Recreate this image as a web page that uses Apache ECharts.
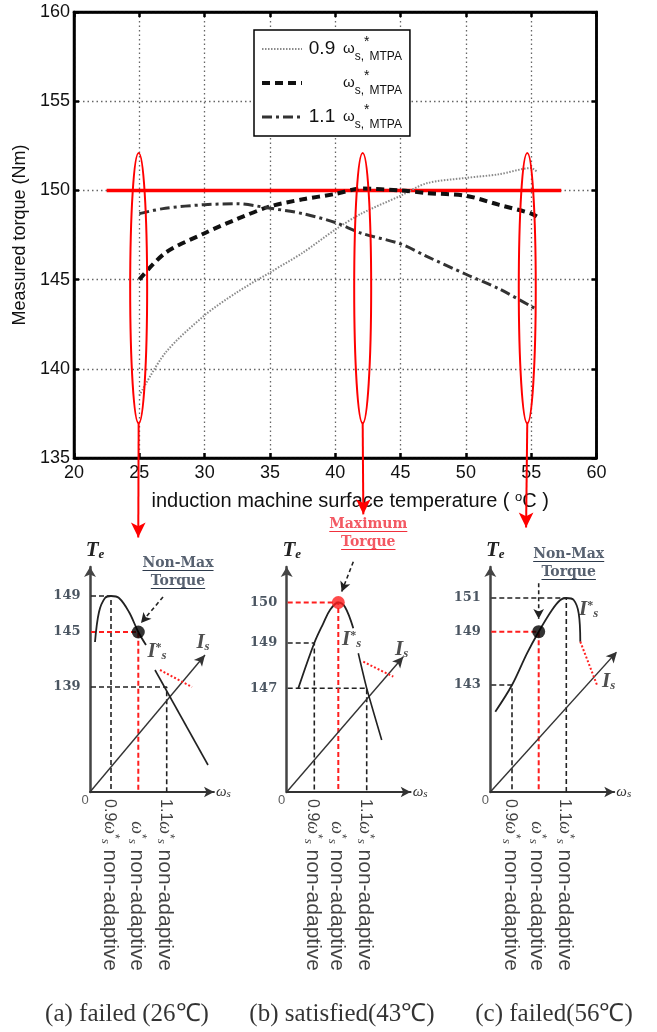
<!DOCTYPE html>
<html>
<head>
<meta charset="utf-8">
<title>Measured torque</title>
<script src="https://cdn.jsdelivr.net/npm/echarts@6/dist/echarts.min.js"></script>
<style>
html, body { margin: 0; padding: 0; background: #fff; }
#main { width: 657px; height: 1032px; }
</style>
</head>
<body>
<div id="main"></div>
<script>
var myChart = echarts.init(document.getElementById('main'));

// measured torque vs surface temperature
var temps = [25, 27, 30, 32.5, 35, 37.5, 40, 42, 45, 47, 50, 52.5, 55, 55.5];
var torque09 = [138.5, 140.9, 143.0, 144.3, 145.4, 146.5, 147.8, 148.7, 149.7, 150.4, 150.7, 150.9, 151.25, 151.0];
var torque10 = [145.0, 146.5, 147.6, 148.4, 149.1, 149.5, 149.8, 150.1, 150.0, 149.85, 149.7, 149.2, 148.7, 148.5];
var torque11 = [148.7, 149.0, 149.2, 149.25, 149.0, 148.7, 148.2, 147.6, 147.0, 146.3, 145.3, 144.5, 143.5, 143.3];

var targetTorque = 150;
var targetSpan = [22.5, 57.3];
var markTemps = [24.95, 42.1, 54.7];
var markRange = [136.95, 152.1];
var markHalf = 0.65;
var arrowTemps = [24.92, 42.15, 54.61];
var arrowTorque = [130.55, 131.84, 131.1];

// sketches (a) (b) (c): x = omega_s, y = T_e (schematic units)
var curveA = [[0.5, 15.0], [0.9, 18.0], [1.5, 19.4], [2.1, 19.6], [2.9, 19.4], [3.9, 18.0], [4.83, 16.0], [5.6, 14.7]];
var curveB = [[1.16, 10.37], [2.76, 14.9], [3.66, 16.87], [4.33, 18.2], [5.16, 18.95], [5.83, 18.5], [6.66, 16.37]];
var curveC = [[0.5, 8.03], [2.17, 10.7], [3.67, 13.87], [4.84, 16.03], [6.17, 18.2], [7.0, 19.2], [7.6, 19.4], [8.34, 19.2], [8.84, 17.87], [9.0, 15.03]];
var isStarA = [[6.5, 12.2], [11.8, 2.7]];
var isStarB = [[7.16, 13.87], [8.0, 10.37], [9.5, 5.2]];
var isStarC = [];
var redDotA = [[7.0, 12.2], [10.2, 10.5]];
var redDotB = [[7.66, 13.03], [10.66, 11.53]];
var redDotC = [[9.0, 15.03], [10.67, 10.7]];
// ticks ordered 0.9 / 1.0 / 1.1 times omega_s*
var tickNamesA = ['149', '145', '139'];
var tickNamesB = ['149', '150', '147'];
var tickNamesC = ['143', '149', '151'];
var tickXA = [2.1, 4.83, 7.67];
var tickXB = [2.76, 5.16, 8.0];
var tickXC = [2.17, 4.84, 7.6];
var tickYA = [19.6, 16.0, 10.5];
var tickYB = [14.9, 18.95, 10.37];
var tickYC = [10.7, 16.03, 19.4];
var isEnds = [[11.5, 13.7], [11.66, 13.53], [12.67, 14.03]];
var callouts = [[[7.3, 19.5], [5.1, 16.9]], [[6.66, 23.03], [5.5, 20.03]], [[4.84, 20.87], [4.84, 17.3]]];
var calloutTexts = ['Non-Max\nTorque', 'Maximum\nTorque', 'Non-Max\nTorque'];
var calloutPos = [[8.8, 22.0], [8.16, 25.9], [7.84, 22.9]];
var isStarPos = [[6.7, 14.0], [6.5, 15.2], [9.84, 18.2]];
var isPos = [[11.3, 14.9], [11.5, 14.2], [11.84, 11.03]];
var separators = [15.5, 15.93];
var gainNames = ['0.9', '', '1.1'];
var captions = ['(a) failed (26℃)', '(b) satisfied(43℃)', '(c) failed(56℃)'];
var captionPos = [[3.7, -22.2], [5.53, -22.2], [6.37, -22.2]];

var curves = [curveA, curveB, curveC];
var curves2 = [isStarA, isStarB, isStarC];
var dotLines = [redDotA, redDotB, redDotC];
var tickNames = [tickNamesA, tickNamesB, tickNamesC];
var tickXs = [tickXA, tickXB, tickXC];
var tickYs = [tickYA, tickYB, tickYC];
var calloutColors = ['#2d3a4c', '#f0303c', '#2d3a4c'];
var dotColors = ['#000', '#ff1e1e', '#000'];
var panelLeft = [90, 286.7, 490.3];
var panelUnit = 10; // px per sketch unit

function zip(xs, ys) {
  return xs.map(function(x, i) { return [x, ys[i]]; });
}
function arrowAngle(from, to) {
  return Math.atan2(to[1] - from[1], to[0] - from[0]) * 180 / Math.PI - 90;
}
var measureCtx = document.createElement('canvas').getContext('2d');
measureCtx.font = 'bold 14px "DejaVu Serif"';

var legendRich = {
  n: {fontSize: 19, fontFamily: 'Liberation Sans', color: '#111', width: 30, align: 'right', lineHeight: 28},
  w: {fontSize: 15, fontFamily: 'Liberation Sans', color: '#111', padding: [0, 0, 0, 6], lineHeight: 28},
  s: {fontSize: 12, fontFamily: 'Liberation Sans', color: '#111', verticalAlign: 'bottom', lineHeight: 12},
  u: {fontSize: 14, fontFamily: 'Liberation Sans', color: '#111', verticalAlign: 'top', lineHeight: 14}
};

var grids = [{left: 74, top: 12, width: 522.5, height: 446, show: true, borderColor: '#000', borderWidth: 2.5, outerBoundsMode: 'none'}];
var xAxes = [{
  gridIndex: 0, type: 'value', min: 20, max: 60, interval: 5,
  axisLine: {lineStyle: {color: '#000', width: 2.5}},
  axisTick: {inside: true, length: 5, lineStyle: {color: '#000', width: 2.5}},
  axisLabel: {color: '#111', fontSize: 18, fontFamily: 'Liberation Sans', margin: 6},
  splitLine: {show: true, lineStyle: {color: '#666', type: [1.5, 3], width: 1.3}},
  name: 'induction machine surface temperature ( {o|o}C )', nameLocation: 'middle', nameGap: 33,
  nameTextStyle: {color: '#111', fontSize: 20, fontFamily: 'Liberation Sans', padding: [0, 0, 0, 30],
    rich: {o: {fontSize: 13, verticalAlign: 'top', lineHeight: 12, color: '#111'}}}
}, {
  gridIndex: 0, type: 'value', min: 20, max: 60, interval: 5, position: 'top',
  axisLine: {lineStyle: {color: '#000', width: 2.5}},
  axisTick: {inside: true, length: 5, lineStyle: {color: '#000', width: 2.5}},
  axisLabel: {show: false}, splitLine: {show: false}
}];
var yAxes = [{
  gridIndex: 0, type: 'value', min: 135, max: 160, interval: 5,
  axisLine: {lineStyle: {color: '#000', width: 2.5}},
  axisTick: {inside: true, length: 5, lineStyle: {color: '#000', width: 2.5}},
  axisLabel: {color: '#111', fontSize: 18, fontFamily: 'Liberation Sans', margin: 4},
  splitLine: {show: true, lineStyle: {color: '#666', type: [1.5, 3], width: 1.3}},
  name: 'Measured torque (Nm)', nameLocation: 'middle', nameGap: 43,
  nameTextStyle: {color: '#111', fontSize: 18, fontFamily: 'Liberation Sans'}
}, {
  gridIndex: 0, type: 'value', min: 135, max: 160, interval: 5, position: 'right',
  axisLine: {lineStyle: {color: '#000', width: 2.5}},
  axisTick: {inside: true, length: 5, lineStyle: {color: '#000', width: 2.5}},
  axisLabel: {show: false}, splitLine: {show: false}
}];

var series = [{
  name: '150', type: 'line', xAxisIndex: 0, yAxisIndex: 0, clip: false,
  data: [[targetSpan[0], targetTorque], [targetSpan[1], targetTorque]],
  symbol: 'none', lineStyle: {color: '#ff0000', width: 3.5}, z: 1
}, {
  name: '0.9', type: 'line', xAxisIndex: 0, yAxisIndex: 0, data: zip(temps, torque09),
  smooth: 0.3, symbol: 'none', itemStyle: {color: '#8a8a8a'},
  lineStyle: {color: '#8a8a8a', width: 2, type: [1.5, 1.5]}, z: 3
}, {
  name: '1', type: 'line', xAxisIndex: 0, yAxisIndex: 0, data: zip(temps, torque10),
  smooth: 0.3, symbol: 'none', itemStyle: {color: '#111'},
  lineStyle: {color: '#111', width: 4, type: [8, 5]}, z: 3
}, {
  name: '1.1', type: 'line', xAxisIndex: 0, yAxisIndex: 0, data: zip(temps, torque11),
  smooth: 0.3, symbol: 'none', itemStyle: {color: '#333'},
  lineStyle: {color: '#333', width: 3, type: [10, 4, 3, 4]}, z: 3
}];

// red pointers from the ellipses down to the sketches
for (var i = 0; i < markTemps.length; i++) {
  series.push({
    type: 'line', xAxisIndex: 0, yAxisIndex: 0, clip: false, symbol: 'none', z: 6,
    lineStyle: {color: '#ff0000', width: 2},
    data: [[markTemps[i], markRange[0]],
      {value: [arrowTemps[i], arrowTorque[i]], symbol: 'arrow', symbolSize: [11, 15], symbolRotate: 180, itemStyle: {color: '#ff0000'}}]
  });
}

var textRich = {
  t: {fontSize: 21, fontFamily: 'Liberation Serif', fontStyle: 'italic', fontWeight: 'bold', color: '#222'},
  e: {fontSize: 13, fontFamily: 'Liberation Serif', fontStyle: 'italic', fontWeight: 'bold', color: '#222', verticalAlign: 'bottom', lineHeight: 13},
  u: {fontSize: 12, fontFamily: 'Liberation Serif', fontWeight: 'bold', color: '#222', verticalAlign: 'top', lineHeight: 12},
  n: {fontSize: 16, fontFamily: 'Liberation Sans', color: '#111'},
  w: {fontSize: 18, fontFamily: 'Liberation Serif', fontStyle: 'italic', color: '#111'},
  k: {fontSize: 12, fontFamily: 'Liberation Sans', color: '#111', verticalAlign: 'top', lineHeight: 12},
  b: {fontSize: 13, fontFamily: 'Liberation Serif', fontStyle: 'italic', color: '#111', verticalAlign: 'bottom', lineHeight: 13},
  a: {fontSize: 21, fontFamily: 'Liberation Sans', color: '#111'}
};

for (var p = 0; p < 3; p++) {
  var ai = p + 2;
  grids.push({left: panelLeft[p], top: 567, width: 124, height: 225, outerBoundsMode: 'none'});
  xAxes.push({
    gridIndex: p + 1, type: 'value', min: 0, max: 12.4,
    axisLine: {show: true, onZero: false, symbol: ['none', 'arrow'], symbolSize: [8, 10], lineStyle: {color: '#333', width: 1.8}},
    axisTick: {show: false}, axisLabel: {show: false}, splitLine: {show: false},
    name: '{w|ω}{s|s}', nameLocation: 'end', nameGap: 2,
    nameTextStyle: {rich: {
      w: {fontSize: 15, fontFamily: 'Liberation Serif', fontStyle: 'italic', color: '#333'},
      s: {fontSize: 11, fontFamily: 'Liberation Serif', fontStyle: 'italic', color: '#333', verticalAlign: 'bottom', lineHeight: 11}
    }}
  });
  yAxes.push({
    gridIndex: p + 1, type: 'value', min: 0, max: 22.5,
    axisLine: {show: true, onZero: false, symbol: ['none', 'arrow'], symbolSize: [9, 10], lineStyle: {color: '#444', width: 2.5}},
    axisTick: {show: false}, axisLabel: {show: false}, splitLine: {show: false},
    name: '{t|T}{e|e}', nameLocation: 'end', nameGap: 6,
    nameTextStyle: {padding: [0, 0, 0, 10], rich: textRich}
  });

  series.push({
    type: 'line', xAxisIndex: ai, yAxisIndex: ai, data: curves[p], smooth: 0.35, symbol: 'none', clip: false,
    lineStyle: {color: '#222', width: 1.8}, z: 4
  });
  if (curves2[p].length) {
    series.push({
      type: 'line', xAxisIndex: ai, yAxisIndex: ai, data: curves2[p], smooth: 0.2, symbol: 'none', clip: false,
      lineStyle: {color: '#222', width: 1.6}, z: 4
    });
  }
  series.push({
    type: 'line', xAxisIndex: ai, yAxisIndex: ai, data: dotLines[p], symbol: 'none', clip: false,
    lineStyle: {color: '#ff2020', width: 2, type: [2, 2]}, z: 4
  });
  for (var k = 0; k < 3; k++) {
    var red = k === 1;
    series.push({
      type: 'line', xAxisIndex: ai, yAxisIndex: ai, symbol: 'none', clip: false, z: red ? 3 : 2,
      data: [[-0.7, tickYs[p][k]], [tickXs[p][k], tickYs[p][k]], [tickXs[p][k], 0]],
      lineStyle: {color: red ? '#ff1e1e' : '#222', width: red ? 2 : 1.6, type: [5, 3]}
    });
  }
  // I_s axis
  series.push({
    type: 'line', xAxisIndex: ai, yAxisIndex: ai, symbol: 'none', clip: false, z: 3,
    lineStyle: {color: '#333', width: 1.4},
    data: [[0, 0], {value: isEnds[p], symbol: 'arrow', symbolSize: [8, 11],
      symbolRotate: arrowAngle([0, 0], isEnds[p]), itemStyle: {color: '#333'}}]
  });
  // callout arrow
  series.push({
    type: 'line', xAxisIndex: ai, yAxisIndex: ai, symbol: 'none', clip: false, z: 5,
    lineStyle: {color: '#222', width: 1.6, type: [4, 3]},
    data: [callouts[p][0], {value: callouts[p][1], symbol: 'arrow', symbolSize: [8, 10],
      symbolRotate: arrowAngle(callouts[p][0], callouts[p][1]), itemStyle: {color: '#222'}}]
  });
  // underline of the callout words
  var words = calloutTexts[p].split('\n');
  for (var j = 0; j < words.length; j++) {
    var half = measureCtx.measureText(words[j]).width / 2 / panelUnit;
    var uy = calloutPos[p][1] + (j === 0 ? 0.15 : -1.65);
    series.push({
      type: 'line', xAxisIndex: ai, yAxisIndex: ai, symbol: 'none', clip: false, z: 7,
      lineStyle: {color: calloutColors[p], width: 1.2},
      data: [[calloutPos[p][0] - half, uy], [calloutPos[p][0] + half, uy]]
    });
  }
  // operating point
  series.push({
    type: 'scatter', xAxisIndex: ai, yAxisIndex: ai, clip: false, z: 6, symbolSize: 13,
    itemStyle: {color: dotColors[p]}, data: [[tickXs[p][1], tickYs[p][1]]]
  });
  if (p < 2) {
    series.push({
      type: 'line', xAxisIndex: ai, yAxisIndex: ai, symbol: 'none', clip: false, z: 2,
      lineStyle: {color: '#666', width: 1.3, type: [8, 3, 1.5, 3]},
      data: [[separators[p], -1.3], [separators[p], 27]]
    });
  }

  var texts = [];
  for (var k = 0; k < 3; k++) {
    texts.push({value: [-0.45, tickYs[p][k]], label: {show: true, position: 'left', distance: 5,
      formatter: tickNames[p][k], fontFamily: 'DejaVu Serif', fontWeight: 'bold', fontSize: 13, color: '#1d2b3a'}});
    var pre = gainNames[k] ? '{n|' + gainNames[k] + '}' : '';
    texts.push({value: [tickXs[p][k] - 0.15, -17.9], label: {show: true, position: 'inside', rotate: -90,
      align: 'right', verticalAlign: 'middle', rich: textRich,
      formatter: pre + '{w|ω}{k|*}{b|s}{a| non-adaptive}'}});
  }
  texts.push({value: [-0.5, -0.8], label: {show: true, position: 'inside', formatter: '0',
    fontFamily: 'Liberation Sans', fontSize: 13, color: '#333'}});
  texts.push({value: calloutPos[p], label: {show: true, position: 'inside', formatter: calloutTexts[p],
    fontFamily: 'DejaVu Serif', fontWeight: 'bold', fontSize: 14, lineHeight: 18, color: calloutColors[p]}});
  texts.push({value: isStarPos[p], label: {show: true, position: 'inside', formatter: '{t|I}{u|*}{e|s}', rich: textRich}});
  texts.push({value: isPos[p], label: {show: true, position: 'inside', formatter: '{t|I}{e|s}', rich: textRich}});
  texts.push({value: captionPos[p], label: {show: true, position: 'inside', formatter: captions[p],
    fontFamily: 'Liberation Serif', fontSize: 25, color: '#000'}});
  series.push({
    type: 'scatter', xAxisIndex: ai, yAxisIndex: ai, clip: false, symbolSize: 0, z: 8,
    itemStyle: {color: 'transparent'}, data: texts
  });
}

var option = {
  backgroundColor: '#fff',
  animation: false,
  legend: {
    data: [
      {name: '0.9', lineStyle: {width: 2}},
      {name: '1', lineStyle: {width: 4}},
      {name: '1.1', lineStyle: {width: 3}}
    ],
    left: 254, top: 30, orient: 'vertical',
    padding: [5, 8, 5, 6], itemGap: 6, itemWidth: 40, itemHeight: 14,
    borderColor: '#000', borderWidth: 1.5, backgroundColor: '#fff',
    itemStyle: {opacity: 0},
    selectedMode: false,
    formatter: function(name) {
      var pre = name === '1' ? ' ' : name;
      return '{n|' + pre + '}{w|ω}{s|s,}{u|*}{s|MTPA}';
    },
    textStyle: {rich: legendRich}
  },
  grid: grids,
  xAxis: xAxes,
  yAxis: yAxes,
  series: series
};
myChart.setOption(option);

// red ellipses around the three temperatures, placed through the main axes
var rings = [];
for (var i = 0; i < markTemps.length; i++) {
  var mid = (markRange[0] + markRange[1]) / 2;
  var c = myChart.convertToPixel({gridIndex: 0}, [markTemps[i], mid]);
  var t = myChart.convertToPixel({gridIndex: 0}, [markTemps[i] + markHalf, markRange[1]]);
  rings.push({
    type: 'ellipse', z: 100,
    shape: {cx: c[0], cy: c[1], rx: t[0] - c[0], ry: c[1] - t[1]},
    style: {fill: 'none', stroke: '#ff0000', lineWidth: 2}
  });
}
myChart.setOption({graphic: rings});
</script>
</body>
</html>
